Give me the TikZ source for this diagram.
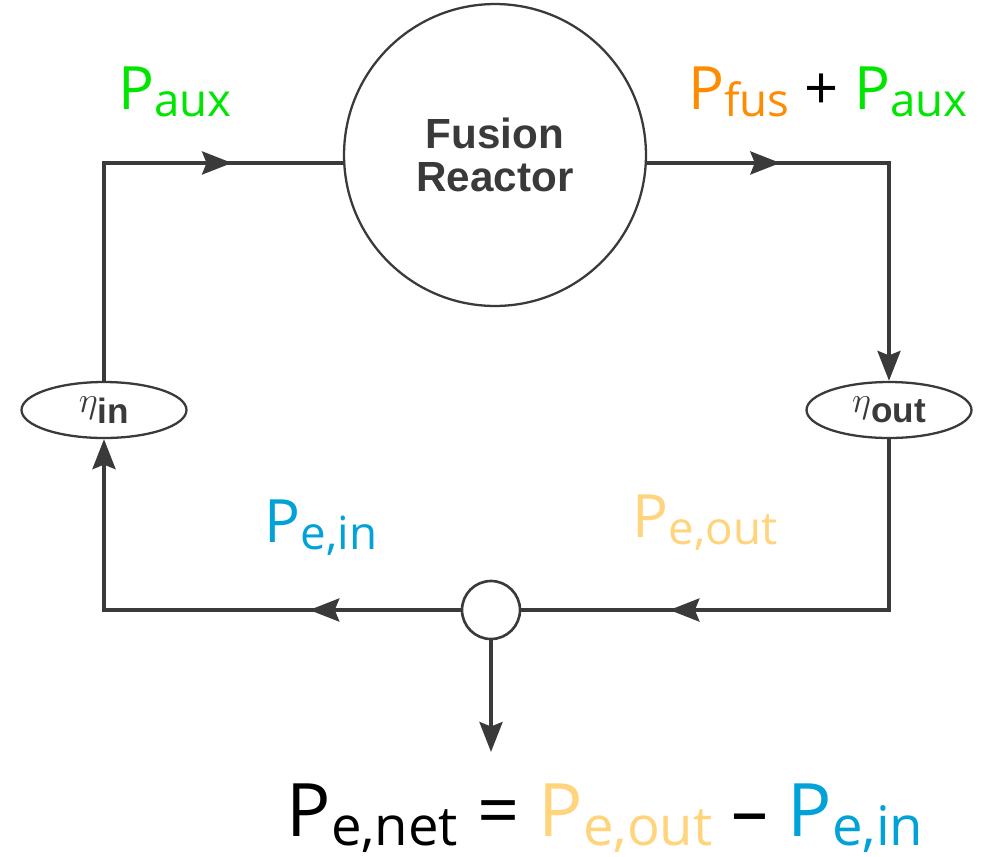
\documentclass[tikz,border=0pt]{standalone}
\usepackage{fontspec}
\setmainfont{Open Sans}
\newfontfamily\helv{Liberation Sans}
\usepackage{tikz}
\usetikzlibrary{arrows.meta, shapes.geometric, decorations.markings}

\definecolor{lineg}{HTML}{3A3A3A}
\definecolor{auxgreen}{HTML}{00E600}
\definecolor{fusorange}{HTML}{FF8C00}
\definecolor{outyellow}{HTML}{FFD47C}
\definecolor{inblue}{HTML}{00A2D8}

\newcommand{\pw}[1]{{\fontsize{34}{38}\selectfont P}\raisebox{-4pt}{\fontsize{26}{30}\selectfont #1}}
\newcommand{\pwbig}[1]{{\fontsize{42}{46}\selectfont P}\raisebox{-5pt}{\fontsize{31}{34}\selectfont #1}}
\newcommand{\effname}[1]{\raisebox{0.3em}{\fontsize{22}{22}\selectfont$\eta$}#1}

\begin{document}
\begin{tikzpicture}[
  x=0.02cm, y=-0.02cm,
  tip/.style={-{Stealth[length=17pt, width=13pt, inset=2.5pt]}},
  flow/.style={line width=2.5pt, draw=lineg},
  midarrow/.style={postaction={decorate}, decoration={markings,
    mark=at position #1 with {\arrow[lineg]{Stealth[length=17pt, width=13pt, inset=2.5pt]}}}},
  reactor/.style={circle, draw=lineg, line width=1.3pt, minimum size=6.04cm, inner sep=0pt,
    font=\helv\bfseries\fontsize{24}{24}\selectfont, text=lineg, align=center},
  effbox/.style={ellipse, draw=lineg, line width=1.3pt, minimum width=3.3cm, minimum height=1.12cm,
    inner sep=0pt, fill=white, font=\helv\bfseries\fontsize{20}{20}\selectfont, text=lineg},
  junction/.style={circle, draw=lineg, line width=1.5pt, minimum size=1.16cm, inner sep=0pt, fill=white},
  pwrlabel/.style={inner sep=0pt, font=\fontsize{34}{38}\selectfont},
]
  \useasboundingbox (0,0) rectangle (987,856);

  \node[reactor] (reactor) at (495,155) {Fusion\\Reactor};
  \node[effbox] (etain) at (104,410) {\effname{in}};
  \node[effbox] (etaout) at (889,410) {\effname{out}};
  \node[junction] (junc) at (491,610) {};
  \coordinate (net) at (491,752);

  \draw[flow, midarrow=0.757] (etain.north) |- (reactor.183.8);
  \draw[flow, tip, midarrow=0.29] (reactor.-3.8) -| (etaout.north);
  \draw[flow, midarrow=0.725] (etaout.south) |- (junc.east);
  \draw[flow, tip, midarrow=0.287] (junc.west) -| (etain.south);
  \draw[flow, tip] (junc.south) -- (net);

  \node[pwrlabel, text=auxgreen] (paux) at (175,92) {\pw{aux}};
  \node[pwrlabel] (pfus) at (828,92)
    {\textcolor{fusorange}{\pw{fus}} + \textcolor{auxgreen}{\pw{aux}}};
  \node[pwrlabel, text=inblue] (pein) at (321,528) {\pw{e,in}};
  \node[pwrlabel, text=outyellow] (peout) at (705,523) {\pw{e,out}};
  \node[pwrlabel, font=\fontsize{42}{46}\selectfont] (pnet) at (605,818)
    {\pwbig{e,net} = \textcolor{outyellow}{\pwbig{e,out}} -- \textcolor{inblue}{\pwbig{e,in}}};
\end{tikzpicture}
\end{document}
